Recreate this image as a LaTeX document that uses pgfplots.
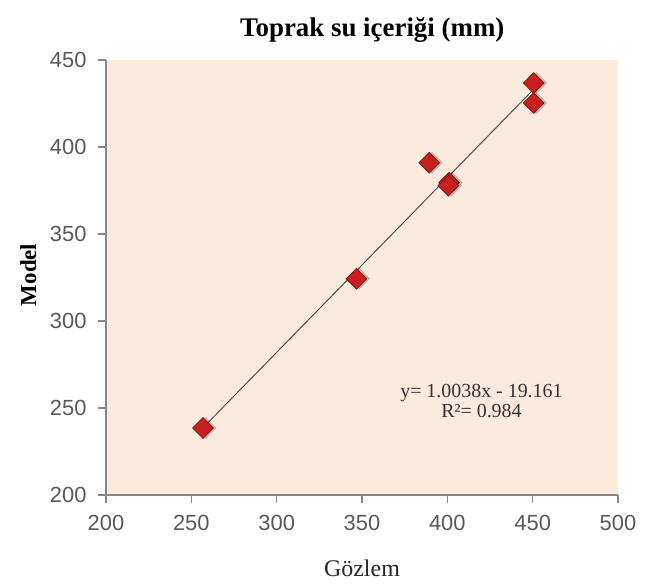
\documentclass[border=0pt]{standalone}
\usepackage{fontspec}
\setmainfont{Liberation Serif}
\newfontfamily\sansf{Liberation Sans}
\usepackage{pgfplots}
\pgfplotsset{compat=1.18}
\definecolor{bgc}{RGB}{252,234,220}
\definecolor{axc}{RGB}{134,134,134}
\definecolor{tickc}{RGB}{89,89,89}
\definecolor{mk}{RGB}{200,32,30}
\definecolor{mkd}{RGB}{125,20,20}
\definecolor{trend}{RGB}{80,80,80}
\begin{document}
\begin{tikzpicture}
\begin{axis}[
 scale only axis, width=512bp, height=435bp,
 xmin=200, xmax=500, ymin=200, ymax=450,
 xtick={200,250,...,500}, ytick={200,250,...,450},
 axis x line*=bottom, axis y line*=left,
 axis line style={axc, line width=1.2bp, -},
 tick style={axc, line width=1.2bp},
 tick align=outside, major tick length=8bp,
 ticklabel style={font=\fontsize{22}{24}\selectfont\sansf, text=tickc},
 xticklabel style={yshift=-9bp},
 yticklabel style={xshift=-8bp},
 /pgf/number format/assume math mode=true,
 axis background/.style={fill=bgc},
 title={\textbf{Toprak su içeriği (mm)}},
 title style={at={(rel axis cs:0.52,1)}, anchor=center, yshift=24bp, font=\fontsize{27}{30}\selectfont},
 xlabel={Gözlem},
 xlabel style={at={(rel axis cs:0.5,0)}, anchor=center, yshift=-73bp, font=\fontsize{24}{26}\selectfont, text=black!85},
 ylabel={\textbf{Model}},
 ylabel style={at={(rel axis cs:-0.152,0.506)}, anchor=center, font=\fontsize{23}{26}\selectfont},
 clip=false,
]
\coordinate (sw) at (rel axis cs:0,0);
\coordinate (ne) at (rel axis cs:1,1);
\addplot[trend, line width=1bp] coordinates {(256.8,238.6) (450.6,433.2)};
\addplot[only marks, mark=square*, mark size=7.3bp,
  mark options={rotate=45, xshift=2bp, yshift=-2bp, fill=black, draw=none, opacity=0.18}]
  coordinates {(256.8,238.5) (346.8,324.3) (389.4,391) (401,379.5) (400.6,377.8) (450.6,436.8) (450.6,425.3)};
\addplot[only marks, mark=square*, mark size=7.3bp,
  mark options={rotate=45, fill=mk, draw=mkd, line width=0.8bp}]
  coordinates {(256.8,238.5) (346.8,324.3) (389.4,391) (401,379.5) (400.6,377.8) (450.6,436.8) (450.6,425.3)};
\node[align=center, font=\fontsize{20}{21}\selectfont, text=black!80] at (axis cs:420,254) {y= 1.0038x - 19.161\\R²= 0.984};
\end{axis}
\pgfresetboundingbox
\path ([shift={(-106bp,-90bp)}]sw) rectangle ([shift={(49bp,60bp)}]ne);
\end{tikzpicture}
\end{document}
